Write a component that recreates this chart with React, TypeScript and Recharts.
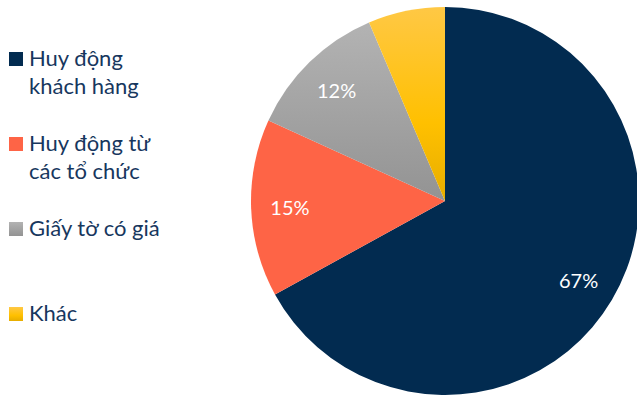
import React from "react";
import { PieChart, Pie, Cell, Legend } from "recharts";

const categories = ["Huy động khách hàng", "Huy động từ các tổ chức", "Giấy tờ có giá", "Khác"];
const legendLines = [["Huy động", "khách hàng"], ["Huy động từ", "các tổ chức"], ["Giấy tờ có giá"], ["Khác"]];
const values = [67, 14.8, 11.8, 6.4];
const labels = ["67%", "15%", "12%", ""];

const fills = ["#022b50", "#fe6446", "url(#gGray)", "url(#gYellow)"];
const swatch = ["#022b50", "#fe6446", "url(#gGrayL)", "url(#gYellowL)"];

const data = categories.map((name, i) => ({ name, value: values[i], label: labels[i] }));

const FONT = "Lato, 'Open Sans', sans-serif";
const TEXT = "#17375e";

const RAD = Math.PI / 180;
const renderLabel = (p: any) => {
  const { cx, cy, midAngle, outerRadius, index } = p;
  const r = outerRadius * 0.8;
  const x = cx + r * Math.cos(-midAngle * RAD);
  const y = cy + r * Math.sin(-midAngle * RAD);
  return (
    <text x={x} y={y} fill="#ffffff" textAnchor="middle" dominantBaseline="central" fontSize={20} fontFamily={FONT}>
      {data[index].label}
    </text>
  );
};

const legendTop = [52, 137, 222, 307];

const LegendContent = () => (
  <svg width={230} height={396} style={{ position: "absolute", left: 0, top: 0 }}>
    <defs>
      <linearGradient id="gGrayL" x1="0" y1="0" x2="0" y2="1">
        <stop offset="0%" stopColor="#b3b3b3" />
        <stop offset="100%" stopColor="#939393" />
      </linearGradient>
      <linearGradient id="gYellowL" x1="0" y1="0" x2="0" y2="1">
        <stop offset="0%" stopColor="#ffc845" />
        <stop offset="60%" stopColor="#ffc000" />
        <stop offset="100%" stopColor="#e6ad00" />
      </linearGradient>
    </defs>
    {legendLines.map((lines, i) => (
      <g key={i}>
        <rect x={9} y={legendTop[i]} width={14} height={14} fill={swatch[i]} />
        {lines.map((t, j) => (
          <text key={j} x={29} y={legendTop[i] + 14 + j * 28} fontSize={22} fill={TEXT} fontFamily={FONT}>
            {t}
          </text>
        ))}
      </g>
    ))}
  </svg>
);

export default function App() {
  return (
    <div style={{ position: "absolute", left: 0, top: 0, width: 637, height: 396, background: "#fff" }}>
      <PieChart width={637} height={396} margin={{ top: 0, right: 0, bottom: 0, left: 0 }}>
        <defs>
          <linearGradient id="gGray" x1="0" y1="0" x2="0" y2="1">
            <stop offset="0%" stopColor="#b3b3b3" />
            <stop offset="100%" stopColor="#939393" />
          </linearGradient>
          <linearGradient id="gYellow" x1="0" y1="0" x2="0" y2="1">
            <stop offset="0%" stopColor="#ffc845" />
            <stop offset="60%" stopColor="#ffc000" />
            <stop offset="100%" stopColor="#e6ad00" />
          </linearGradient>
        </defs>
        <Pie
          data={data}
          dataKey="value"
          nameKey="name"
          cx={445}
          cy={201}
          outerRadius={194}
          startAngle={90}
          endAngle={-270}
          stroke="none"
          label={renderLabel}
          labelLine={false}
          isAnimationActive={false}
        >
          {data.map((d, i) => (
            <Cell key={d.name} fill={fills[i]} />
          ))}
        </Pie>
        <Legend content={LegendContent} wrapperStyle={{ left: 0, top: 0, width: 230, height: 396 }} />
      </PieChart>
    </div>
  );
}
